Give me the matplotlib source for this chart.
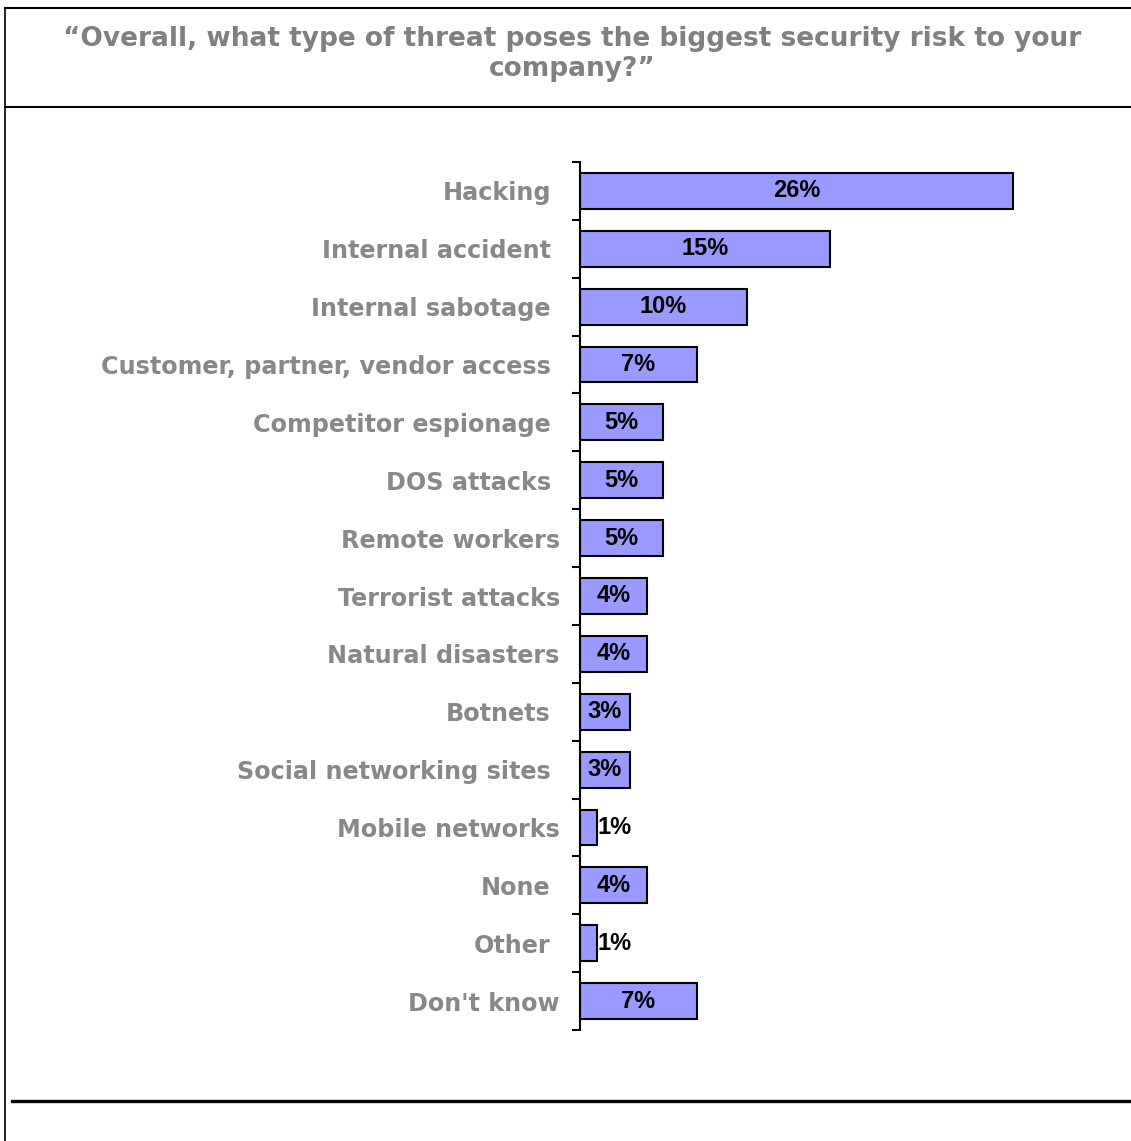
import matplotlib
matplotlib.use("Agg")
import matplotlib.pyplot as plt
import matplotlib.transforms as mtransforms
from matplotlib.lines import Line2D
import numpy as np

# Survey answers and shares (%)
CATEGORIES = ["Hacking", "Internal accident", "Internal sabotage",
              "Customer, partner, vendor access", "Competitor espionage",
              "DOS attacks", "Remote workers", "Terrorist attacks",
              "Natural disasters", "Botnets", "Social networking sites",
              "Mobile networks", "None", "Other", "Don't know"]
SHARES = [26, 15, 10, 7, 5, 5, 5, 4, 4, 3, 3, 1, 4, 1, 7]
TITLE = "\u201cOverall, what type of threat poses the biggest security risk to your\ncompany?\u201d"

W, H = 1131, 1141
fig = plt.figure(figsize=(W / 100, H / 100), dpi=100)

# frame lines around the title block
def hline(y, x0, x1, lw):
    fig.add_artist(Line2D([x0 / W, x1 / W], [1 - y / H, 1 - y / H], color="black", lw=lw))

hline(8, 5, W, 1.5)
hline(107, 5, W, 1.5)
hline(1101, 12, W, 2.4)
fig.add_artist(Line2D([5 / W, 5 / W], [1 - 8 / H, 0], color="black", lw=1.2))

fig.text(572 / W, 1 - 54 / H, TITLE, ha="center", va="center", fontsize=19,
         fontweight="bold", color="#808080", linespacing=1.25)

ax = fig.add_axes([580 / W, 111 / H, 499.6 / W, 868 / H])
y = np.arange(len(CATEGORIES))
ax.barh(y, SHARES, height=0.62, color="#9999ff", edgecolor="black", linewidth=1.5)
ax.set_xlim(0, 30)
ax.set_ylim(len(CATEGORIES) - 0.5, -0.5)

for i, v in enumerate(SHARES):
    if v <= 1:
        ax.text(v + 0.05, i, f"{v}%", ha="left", va="center", fontsize=17,
                fontweight="bold", family="Liberation Sans", color="black")
    else:
        ax.text(v / 2, i, f"{v}%", ha="center", va="center", fontsize=17,
                fontweight="bold", family="Liberation Sans", color="black")

for s in ["top", "right", "bottom"]:
    ax.spines[s].set_visible(False)
ax.spines["left"].set_linewidth(1.5)
ax.set_xticks([])
ax.set_yticks(np.arange(-0.5, len(CATEGORIES), 1.0), minor=True)
ax.tick_params(axis="y", which="minor", length=6, width=1.5, direction="out")
ax.set_yticks(y)
ax.set_yticklabels(CATEGORIES, fontsize=17.2, fontweight="bold", color="#888888")
ax.tick_params(axis="y", which="major", length=0, pad=21)

# a few labels sit a little closer to the axis
shifted = {"Remote workers", "Terrorist attacks", "Natural disasters",
           "Mobile networks", "Don't know"}
for lab in ax.get_yticklabels():
    if lab.get_text() in shifted:
        lab.set_transform(lab.get_transform() + mtransforms.ScaledTranslation(9 / 100, 0, fig.dpi_scale_trans))

fig.savefig("out.png", dpi=100)
